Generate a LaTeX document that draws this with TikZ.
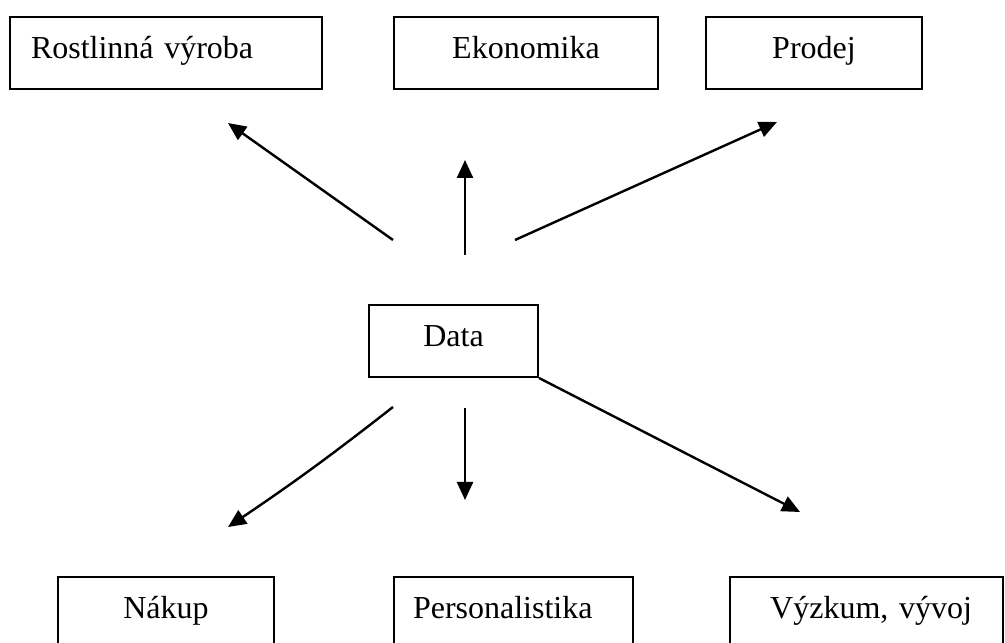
\documentclass[tikz,border=0pt]{standalone}
\usepackage{fontspec}
\setmainfont{Liberation Serif}
\usetikzlibrary{arrows.meta}
\begin{document}
\begin{tikzpicture}[x=1pt,y=1pt,
  box/.style={draw, line width=2pt, minimum height=72pt, inner ysep=0pt,
    font=\fontsize{32}{38}\selectfont, text height=23pt, text depth=11pt},
  cbox/.style={box, inner xsep=0pt, align=center},
  lbox/.style={box, align=left},
  rbox/.style={box, align=right},
  conn/.style={line width=2.4pt, -{Triangle[length=18pt,width=16pt]}}]
\useasboundingbox (0,0) rectangle (1005,643);
\clip (0,0) rectangle (1005,643);
% top row
\node[lbox, inner xsep=21pt, text width=270pt] (rv) at (166,590) {Rostlinná výroba};
\node[cbox, minimum width=264pt] (ek) at (526,590) {Ekonomika};
\node[cbox, minimum width=216pt] (pr) at (814,590) {Prodej};
% centre
\node[cbox, minimum width=169pt] (data) at (453.5,302) {Data};
% bottom row
\node[cbox, minimum width=216pt] (nk) at (166,30) {Nákup};
\node[lbox, inner xsep=19pt, text width=201pt] (ps) at (513.5,30) {Personalistika};
\node[rbox, inner xsep=31pt, text width=211pt] (vv) at (866.5,30) {Výzkum, vývoj};
% connector ends
\coordinate (t1) at (393,403); \coordinate (h1) at (228,520);
\coordinate (t2) at (465,388); \coordinate (h2) at (465,483);
\coordinate (t3) at (515,403); \coordinate (h3) at (777,521);
\coordinate (t4) at (393,236); \coordinate (h4) at (228,116);
\coordinate (t5) at (465,235); \coordinate (h5) at (465,143);
\coordinate (h6) at (800,131);
\draw[conn] (t1) -- (h1);
\draw[conn] (t2) -- (h2);
\draw[conn] (t3) -- (h3);
\draw[conn] (t4) to[bend left=2] (h4);
\draw[conn] (t5) -- (h5);
\draw[conn] (data.south east) -- (h6);
\end{tikzpicture}
\end{document}
